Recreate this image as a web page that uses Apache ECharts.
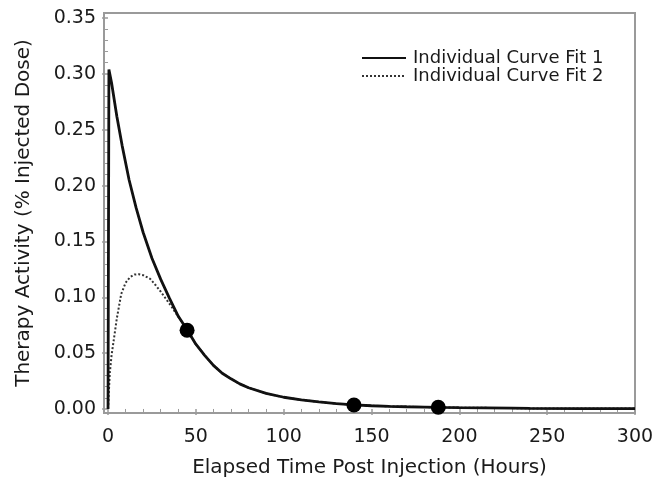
<!DOCTYPE html>
<html>
<head>
<meta charset="utf-8">
<script src="https://cdn.jsdelivr.net/npm/echarts@6/dist/echarts.min.js"></script>
<style>html,body{margin:0;padding:0;background:#fff}#c{width:663px;height:491px}</style>
</head>
<body>
<div id="c"></div>
<script>
// ---- data ----
var fit1X = [0, 0.5, 2, 5, 8, 12, 16, 20, 25, 30, 35, 40, 45, 50, 55, 60, 65, 70, 75, 80, 90, 100, 110, 120, 130, 140, 150, 160, 170, 180, 190, 200, 215, 230, 240, 270, 300];
var fit1Y = [0, 0.304, 0.292, 0.262, 0.236, 0.205, 0.180, 0.158, 0.135, 0.116, 0.099, 0.083, 0.071, 0.058, 0.048, 0.039, 0.032, 0.027, 0.0225, 0.019, 0.014, 0.0105, 0.0082, 0.0063, 0.0048, 0.0037, 0.0029, 0.0024, 0.0020, 0.0017, 0.0014, 0.0012, 0.0010, 0.0008, 0.0005, 0.0004, 0.0004];
var fit2X = [0, 0.3, 1, 2, 3, 5, 7.5, 10, 12.5, 15, 17.5, 20, 24, 27, 30, 33, 36, 40, 45, 50, 55, 60, 65, 70, 75, 80, 90, 100, 110, 120, 130, 140, 150, 160, 170, 180, 190, 200, 215, 230, 240, 270, 300];
var fit2Y = [0, 0.010, 0.032, 0.048, 0.059, 0.081, 0.103, 0.113, 0.118, 0.1203, 0.1207, 0.1198, 0.1165, 0.111, 0.105, 0.0985, 0.092, 0.0825, 0.071, 0.058, 0.048, 0.039, 0.032, 0.027, 0.0225, 0.019, 0.014, 0.0105, 0.0082, 0.0063, 0.0048, 0.0037, 0.0029, 0.0024, 0.0020, 0.0017, 0.0014, 0.0012, 0.0010, 0.0008, 0.0005, 0.0004, 0.0004];
var obsX = [45, 140, 188];
var obsY = [0.0705, 0.0036, 0.0015];
var xTicks = [0, 50, 100, 150, 200, 250, 300];
var xMinor = [10, 20, 30, 40, 60, 70, 80, 90, 110, 120, 130, 140, 160, 170, 180, 190, 210, 220, 230, 240, 260, 270, 280, 290];
var yTicks = [0, 0.05, 0.10, 0.15, 0.20, 0.25, 0.30, 0.35];
var yMinor = [0.01, 0.02, 0.03, 0.04, 0.06, 0.07, 0.08, 0.09, 0.11, 0.12, 0.13, 0.14, 0.16, 0.17, 0.18, 0.19, 0.21, 0.22, 0.23, 0.24, 0.26, 0.27, 0.28, 0.29, 0.31, 0.32, 0.33, 0.34];
var seriesNames = ['Individual Curve Fit 1', 'Individual Curve Fit 2'];
var xTitle = 'Elapsed Time Post Injection (Hours)';
var yTitle = 'Therapy Activity (% Injected Dose)';

function zip(a, b) { return a.map(function (v, i) { return [v, b[i]]; }); }

var FONT = 'DejaVu Sans';
var TXT = '#1a1a1a';
var AX = '#9a9a9a';
var XMIN = -2.3, XMAX = 300, YMIN = -0.0036, YMAX = 0.3545;

var chart = echarts.init(document.getElementById('c'), null, { renderer: 'canvas' });
chart.setOption({
  animation: false,
  backgroundColor: '#fff',
  grid: { left: 104, right: 28, top: 13, bottom: 78, show: true, borderColor: AX, borderWidth: 2, backgroundColor: '#fff' },
  legend: {
    orient: 'vertical', left: 356, top: 44, itemGap: 0,
    itemWidth: 44, itemHeight: 16,
    data: seriesNames,
    itemStyle: { opacity: 0 },
    textStyle: { fontFamily: FONT, fontSize: 18, color: TXT, padding: [0, 0, 0, 2] }
  },
  xAxis: [{
    type: 'value', min: XMIN, max: XMAX,
    axisLine: { show: false },
    splitLine: { show: false },
    axisTick: { show: true, customValues: xTicks, length: 6, inside: false, lineStyle: { color: AX, width: 1.5 } },
    axisLabel: { customValues: xTicks, margin: 15, fontFamily: FONT, fontSize: 19, color: TXT, showMaxLabel: true },
    name: xTitle, nameLocation: 'middle', nameGap: 45,
    nameTextStyle: { fontFamily: FONT, fontSize: 20, color: TXT }
  }, {
    type: 'value', min: XMIN, max: XMAX, position: 'bottom', offset: 0,
    axisLine: { show: false }, splitLine: { show: false },
    axisTick: { show: true, customValues: xMinor, length: 3, lineStyle: { color: AX, width: 1 } },
    axisLabel: { show: false }
  }],
  yAxis: [{
    type: 'value', min: YMIN, max: YMAX,
    axisLine: { show: false },
    splitLine: { show: false },
    axisTick: { show: true, customValues: yTicks, length: 6, lineStyle: { color: AX, width: 1.5 } },
    axisLabel: { customValues: yTicks, margin: 8, fontFamily: FONT, fontSize: 19, color: TXT,
      formatter: function (v) { return v.toFixed(2); } },
    name: yTitle, nameLocation: 'middle', nameGap: 70,
    nameTextStyle: { fontFamily: FONT, fontSize: 20, color: TXT }
  }, {
    type: 'value', min: YMIN, max: YMAX, position: 'left', offset: 0,
    axisLine: { show: false }, splitLine: { show: false },
    axisTick: { show: true, customValues: yMinor, length: 3, lineStyle: { color: AX, width: 1 } },
    axisLabel: { show: false }
  }],
  series: [{
    name: seriesNames[0], type: 'line', data: zip(fit1X, fit1Y),
    symbol: 'none', smooth: false, z: 3,
    lineStyle: { color: '#111', width: 2.8, type: 'solid' },
    itemStyle: { color: '#111' }
  }, {
    name: seriesNames[1], type: 'line', data: zip(fit2X, fit2Y),
    symbol: 'none', smooth: false, z: 2,
    lineStyle: { color: '#333', width: 2, type: [2, 2] },
    itemStyle: { color: '#333' }
  }, {
    name: 'Observed', type: 'scatter', data: zip(obsX, obsY),
    symbol: 'circle', symbolSize: 15, z: 4,
    itemStyle: { color: '#000', opacity: 1 }
  }]
});
</script>
</body>
</html>
